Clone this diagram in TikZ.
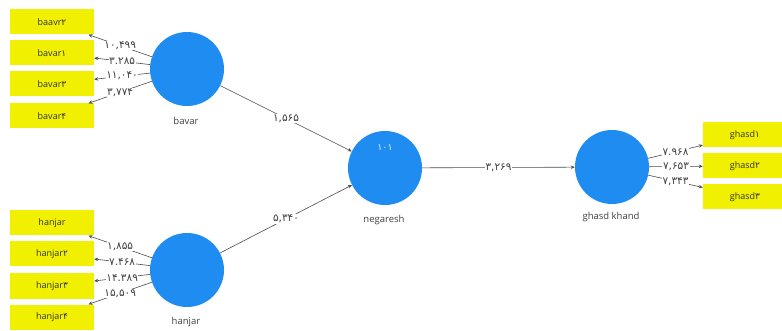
\documentclass[tikz,border=0pt]{standalone}
\usepackage{fontspec}
\setmainfont{Open Sans}
\newfontfamily\fa{DejaVu Sans}
\usetikzlibrary{arrows.meta}
\definecolor{lvblue}{RGB}{30,140,240}
\definecolor{indyellow}{RGB}{240,240,0}
\newcommand{\pd}[1]{{\fa #1}}
\begin{document}
\begin{tikzpicture}[x=1pt,y=-1pt,
  lv/.style={circle,fill=lvblue,minimum size=74pt,inner sep=0pt},
  ind/.style={rectangle,fill=indyellow,minimum width=84pt,minimum height=25pt,inner sep=0pt,font=\fontsize{9}{10}\selectfont,text=black!80},
  lvname/.style={font=\fontsize{9.5}{11}\selectfont,text=black!75},
  conn/.style={draw=black!70,line width=0.6pt,-{Stealth[length=4pt,width=3.5pt]}},
  val/.style={fill=white,inner sep=0.6pt,font=\fa\fontsize{10.5}{12}\selectfont,text=black!75}]
\clip (0,0) rectangle (782,331);
\fill[white] (0,0) rectangle (782,331);

% latent variables
\node[lv] (bavar) at (187,69) {};
\node[lv] (hanjar) at (187,270) {};
\node[lv] (neg) at (385,168) {};
\node[lv] (ghasd) at (612,167) {};
\node[lvname] (lbavar) at (186,121) {bavar};
\node[lvname] (lhanjar) at (186,322) {hanjar};
\node[lvname] (lneg) at (384,220) {negaresh};
\node[lvname] (lghasd) at (611,217) {ghasd khand};
\node[font=\fa\fontsize{9.5}{10}\selectfont,text=white!85!lvblue] (r2) at (385,147) {۱۰۱};

% indicators
\node[ind] (b1) at (52,22) {baavr\pd{۲}};
\node[ind] (b2) at (52,53) {bavar\pd{۱}};
\node[ind] (b3) at (52,84) {bavar\pd{۳}};
\node[ind] (b4) at (52,116) {bavar\pd{۴}};
\node[ind] (h1) at (52,223) {hanjar};
\node[ind] (h2) at (52,254) {hanjar\pd{۲}};
\node[ind] (h3) at (52,286) {hanjar\pd{۳}};
\node[ind] (h4) at (52,317) {hanjar\pd{۴}};
\node[ind] (g1) at (745,135) {ghasd\pd{۱}};
\node[ind] (g2) at (745,166) {ghasd\pd{۲}};
\node[ind] (g3) at (745,197) {ghasd\pd{۳}};

% outer loadings
\draw[conn] (bavar) -- node[val] {۱۰,۴۹۹} (b1);
\draw[conn] (bavar) -- node[val] {۳.۲۸۵} (b2);
\draw[conn] (bavar) -- node[val] {۱۱,۰۴۰} (b3);
\draw[conn] (bavar) -- node[val] {۳,۷۷۴} (b4);
\draw[conn] (hanjar) -- node[val] {۱,۸۵۵} (h1);
\draw[conn] (hanjar) -- node[val] {۷.۴۶۸} (h2);
\draw[conn] (hanjar) -- node[val] {۱۴.۳۸۹} (h3);
\draw[conn] (hanjar) -- node[val] {۱۵,۵۰۹} (h4);
\draw[conn] (ghasd) -- node[val] {۷.۹۶۸} (g1);
\draw[conn] (ghasd) -- node[val] {۷,۶۵۳} (g2);
\draw[conn] (ghasd) -- node[val] {۷,۳۴۳} (g3);

% inner paths
\draw[conn] (bavar) -- node[val] {۱,۵۶۵} (neg);
\draw[conn] (hanjar) -- node[val] {۵,۳۴۰} (neg);
\draw[conn] (neg) -- node[val] {۳,۲۶۹} (ghasd);
\end{tikzpicture}
\end{document}
